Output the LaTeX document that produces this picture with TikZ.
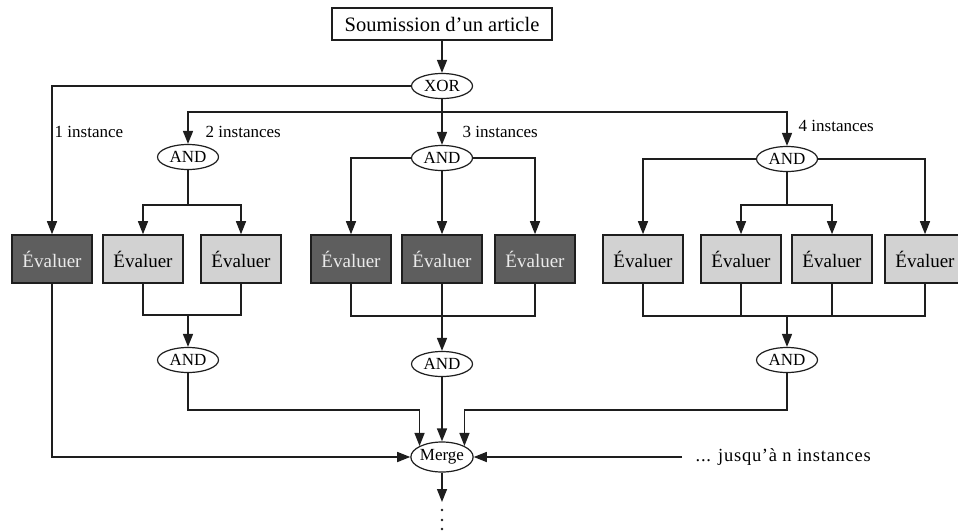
\documentclass[tikz,border=0pt]{standalone}
\usepackage{fontspec}
\setmainfont{Liberation Serif}
\newfontfamily\widefont[LetterSpace=4]{Liberation Serif}
\usetikzlibrary{shapes.geometric,arrows.meta}
\definecolor{evdk}{RGB}{94,94,94}
\definecolor{evlt}{RGB}{210,210,210}
\definecolor{evtx}{RGB}{235,235,235}
\definecolor{ln}{RGB}{30,30,30}
\begin{document}
\begin{tikzpicture}[x=1pt,y=-1pt,
  line width=1.4pt, draw=ln,
  arr/.style={-{Triangle[length=13pt,width=10pt]}},
  gate/.style={ellipse,draw=ln,line width=1.2pt,fill=white,minimum width=61pt,minimum height=25pt,inner sep=0pt,font=\fontsize{17}{17}\selectfont},
  evbox/.style={rectangle,draw=ln,line width=1.6pt,minimum width=80pt,minimum height=48pt,inner sep=0pt,font=\fontsize{19}{19}\selectfont},
  evdark/.style={evbox,fill=evdk,text=evtx},
  evlight/.style={evbox,fill=evlt,text=black},
  lbl/.style={anchor=west,inner sep=0pt,font=\fontsize{17}{17}\selectfont},
  dotc/.style={fill=ln}
]
\useasboundingbox (0,0) rectangle (958,531);
\node[rectangle,draw=ln,line width=1.6pt,minimum width=220pt,minimum height=32pt,inner sep=0pt,font=\fontsize{20.5}{20.5}\selectfont] (sub) at (442,24) {Soumission d’un article};
\node[gate] (xor) at (442,86) {XOR};
\node[gate] (and1) at (188,157) {AND};
\node[gate] (and2) at (442,158) {AND};
\node[gate] (and3) at (787,159) {AND};
\node[evdark] (e1) at (52,259) {Évaluer};
\node[evlight] (e2) at (143,259) {Évaluer};
\node[evlight] (e3) at (241,259) {Évaluer};
\node[evdark] (e4) at (351,259) {Évaluer};
\node[evdark] (e5) at (442,259) {Évaluer};
\node[evdark] (e6) at (535,259) {Évaluer};
\node[evlight] (e7) at (643,259) {Évaluer};
\node[evlight] (e8) at (741,259) {Évaluer};
\node[evlight] (e9) at (832,259) {Évaluer};
\node[evlight] (e10) at (925,259) {Évaluer};
\node[gate] (and4) at (188,360) {AND};
\node[gate] (and5) at (442,364) {AND};
\node[gate] (and6) at (787,360) {AND};
\node[gate,minimum height=30pt,minimum width=62pt] (merge) at (442,457) {Merge};
\node[lbl] (l1) at (54,132) {1 instance};
\node[lbl] (l2) at (205,132) {2 instances};
\node[lbl] (l3) at (462,132) {3 instances};
\node[lbl] (l4) at (798,126) {4 instances};
\node[lbl,font=\widefont\fontsize{18.5}{18.5}\selectfont] (jusq) at (695,457) {... jusqu’à n instances};
\coordinate (split) at (442,112);
\coordinate (s1) at (188,205);
\coordinate (s3) at (787,205);
\coordinate (j1) at (188,315);
\coordinate (j2) at (442,316);
\coordinate (j3) at (787,316);
\coordinate (lvl) at (0,410);
\coordinate (jend) at (682,457);
\coordinate (cont) at (442,502);
% top
\draw[arr] (sub) -- (xor);
\draw[arr] (xor.west) -| (e1.north);
\draw[arr] (xor) -- (and2);
\draw[arr] (split) -| (and1.north);
\draw[arr] (split) -| (and3.north);
% AND1
\draw (and1) -- (s1);
\draw[arr] (s1) -| (e2.north);
\draw[arr] (s1) -| (e3.north);
% AND2
\draw[arr] (and2.west) -| (e4.north);
\draw[arr] (and2.east) -| (e6.north);
\draw[arr] (and2) -- (e5);
% AND3
\draw[arr] (and3.west) -| (e7.north);
\draw[arr] (and3.east) -| (e10.north);
\draw (and3) -- (s3);
\draw[arr] (s3) -| (e8.north);
\draw[arr] (s3) -| (e9.north);
% joins
\draw (e2.south) |- (e3.south |- j1) -- (e3.south);
\draw[arr] (j1) -- (and4);
\draw (e4.south) |- (e6.south |- j2) -- (e6.south);
\draw[arr] (e5) -- (and5);
\draw (e7.south) |- (e10.south |- j3) -- (e10.south);
\draw (e8.south) -- (e8.south |- j3);
\draw (e9.south) -- (e9.south |- j3);
\draw[arr] (j3) -- (and6);
% to merge
\draw[arr] (e1.south) |- (merge.west);
\draw[arr] (and4.south) |- (merge.north west |- lvl) -- (merge.north west);
\draw[arr] (and6.south) |- (merge.north east |- lvl) -- (merge.north east);
\draw[arr] (and5) -- (merge);
\draw[arr] (jend) -- (merge.east);
\draw[arr] (merge) -- (cont);
\fill[dotc] (442,510) circle (1.3pt);
\fill[dotc] (442,520) circle (1.3pt);
\fill[dotc] (442,529) circle (1.3pt);
\end{tikzpicture}
\end{document}
